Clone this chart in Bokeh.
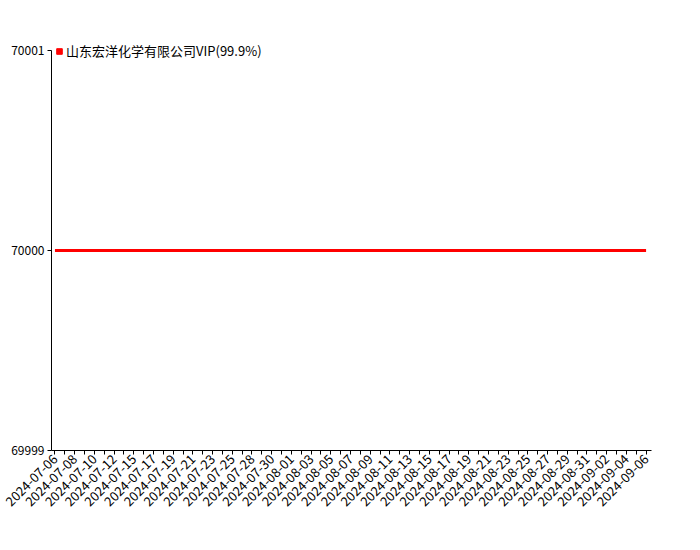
import math
from datetime import date, timedelta
from bokeh.plotting import figure
from bokeh.models import FixedTicker, Legend, LegendItem, ColumnDataSource
from bokeh.embed import file_html
from bokeh.resources import INLINE

# ---- data ----
series_name = "山东宏洋化学有限公司VIP(99.9%)"
_start = date(2024, 7, 6)
_skip = {"2024-07-14", "2024-07-27"}
dates = []
_d = _start
while _d <= date(2024, 9, 6):
    s = _d.isoformat()
    if s not in _skip:
        dates.append(s)
    _d += timedelta(days=1)
prices = [70000] * len(dates)
y_ticks = [69999, 70000, 70001]

FONT = "Noto Sans CJK SC"
RED = "#ff0000"

x_idx = list(range(len(dates)))
src = ColumnDataSource(dict(x=x_idx, y=prices))
# legend-only marker source (NaN value: not drawn in the plot area)
legend_src = ColumnDataSource(dict(x=x_idx[:1], y=[float("nan")]))

# extra headroom above the top tick so the legend is not clipped;
# the y axis line itself is bounded to the tick range
headroom = 0.07
p = figure(width=690, height=540, output_backend="svg", toolbar_location=None,
           x_range=(-0.35, len(dates) - 1 + 0.55),
           y_range=(y_ticks[0], y_ticks[-1] + headroom),
           min_border_left=51, min_border_top=36, min_border_right=10, min_border_bottom=10)
p.frame_width = 600
p.frame_height = 414
p.outline_line_color = None
p.xgrid.visible = False
p.ygrid.visible = False
p.background_fill_color = "white"

line = p.line("x", "y", source=src, line_color=RED, line_width=3)
sq = p.scatter("x", "y", source=legend_src, marker="square", size=7,
               fill_color=RED, line_color=RED)

# x axis
xa = p.xaxis[0]
xa.ticker = FixedTicker(ticks=x_idx)
xa.major_label_overrides = {i: (dates[i] if i % 2 == 0 else "") for i in x_idx}
xa.major_label_orientation = math.pi / 4
xa.major_label_text_font = FONT
xa.major_label_text_font_size = "13px"
xa.major_label_text_color = "#000000"
xa.major_tick_out = 4
xa.major_tick_in = 0
xa.minor_tick_line_color = None
xa.axis_line_color = "#000000"
xa.major_tick_line_color = "#000000"
xa.major_label_standoff = 2

# y axis
ya = p.yaxis[0]
ya.ticker = FixedTicker(ticks=y_ticks)
ya.bounds = (y_ticks[0], y_ticks[-1])
ya.major_label_overrides = {v: str(v) for v in y_ticks}
ya.major_label_text_font = FONT
ya.major_label_text_font_size = "12px"
ya.major_label_text_color = "#000000"
ya.major_tick_out = 4
ya.major_tick_in = 0
ya.minor_tick_line_color = None
ya.axis_line_color = "#000000"
ya.major_tick_line_color = "#000000"
ya.major_label_standoff = 3

legend = Legend(items=[LegendItem(label=series_name, renderers=[sq])],
                location=(1, 390), orientation="vertical",
                background_fill_alpha=0, border_line_color=None,
                label_text_font=FONT, label_text_font_size="13px",
                label_text_color="#000000", label_height=16,
                glyph_width=14, glyph_height=14, label_standoff=0,
                padding=2, margin=0, spacing=0)
p.add_layout(legend, "center")

open("out.html", "w").write(file_html(p, INLINE))
